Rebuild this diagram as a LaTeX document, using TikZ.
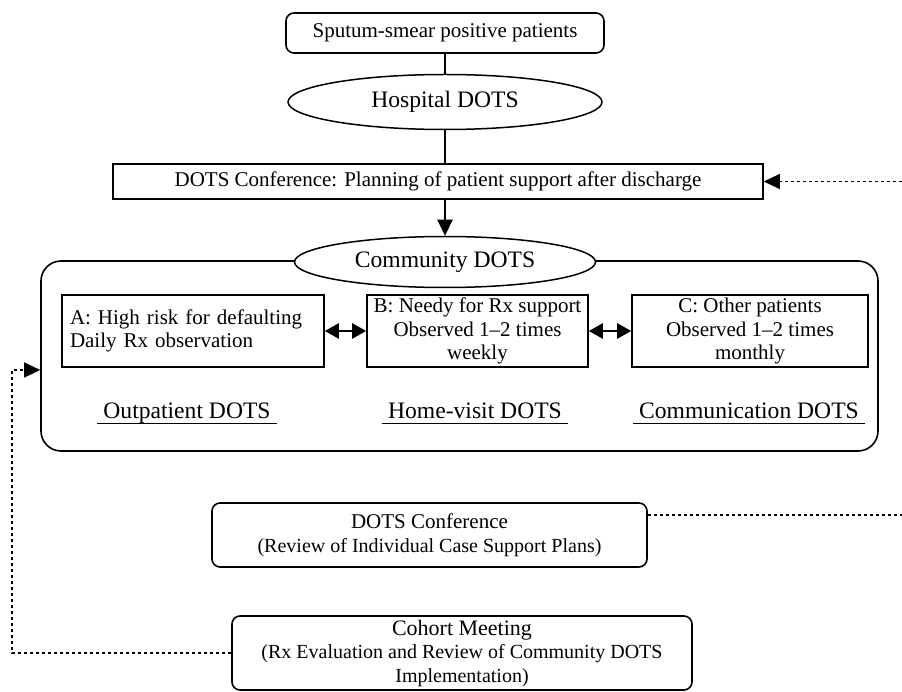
\documentclass[tikz,border=0pt]{standalone}
\usepackage{fontspec}
\setmainfont{Liberation Serif}
\usetikzlibrary{shapes.geometric,arrows.meta}

\begin{document}
\begin{tikzpicture}[x=1pt, y=-1pt,
		boxtext/.style={font=\fontsize{21}{23.5}\selectfont},
		bigtext/.style={font=\fontsize{23.6}{26}\selectfont},
		plainbox/.style={draw, line width=1.6pt, inner sep=0pt, boxtext, align=center},
		roundbox/.style={plainbox, rounded corners=8pt},
		ovalnode/.style={draw, ellipse, line width=1.5pt, inner sep=0pt, bigtext, fill=white},
		solidlink/.style={line width=2.2pt},
		dotlink/.style={line width=1.3pt, dash pattern=on 3.5pt off 2.5pt},
		headarrow/.style={-{Triangle[length=16pt,width=15pt]}},
		dualarrow/.style={line width=2.4pt, {Triangle[length=14pt,width=15pt]}-{Triangle[length=14pt,width=15pt]}},
		typelabel/.style={bigtext, anchor=base, inner xsep=6pt, inner ysep=0.5pt, text depth=5pt}]
				\useasboundingbox (0,0) rectangle (902,692);
				
				% Hospital stage
				\node[roundbox, minimum width=318pt, minimum height=40pt] (sputum) at (445,33) {Sputum-smear positive patients};
				\node[ovalnode, minimum width=314pt, minimum height=55pt] (hospital) at (445,102) {Hospital DOTS};
				\node[plainbox, minimum width=650pt, minimum height=35pt] (plan) at (438,181.5) {DOTS Conference: Planning of patient support after discharge};
				
				% Community stage
				\node[plainbox, rounded corners=20pt, minimum width=837pt, minimum height=190pt] (area) at (459.5,356) {};
				\node[ovalnode, minimum width=301pt, minimum height=51pt] (community) at (445,262) {Community DOTS};
				
				% Patient groups
				\node[plainbox, text width=246pt, inner xsep=8pt, align=left, minimum height=72pt] (groupa) at (193,331) {A: High risk for defaulting\\Daily Rx observation};
				\node[plainbox, minimum width=221pt, minimum height=72pt] (groupb) at (477.5,331) {B: Needy for Rx support\\Observed 1--2 times\\weekly};
				\node[plainbox, minimum width=236pt, minimum height=72pt] (groupc) at (750,331) {C: Other patients\\Observed 1--2 times\\monthly};
				
				% Types of DOTS
				\node[typelabel] (outpatient) at (187,418) {Outpatient DOTS};
				\node[typelabel] (homevisit) at (475,418) {Home-visit DOTS};
				\node[typelabel] (communication) at (749,418) {Communication DOTS};
				\foreach \t in {outpatient,homevisit,communication}
					\draw[line width=1.2pt] (\t.south west) -- (\t.south east);
				
				% Meetings
				\node[roundbox, minimum width=435pt, minimum height=64pt] (review) at (429.5,535) {{\fontsize{21}{23}\selectfont DOTS Conference}\\{\fontsize{20}{22}\selectfont (Review of Individual Case Support Plans)}};
				\node[roundbox, minimum width=460pt, minimum height=74pt] (cohort) at (462,653) {{\fontsize{22}{21}\selectfont Cohort Meeting}\\{\fontsize{20}{22}\selectfont (Rx Evaluation and Review of Community DOTS}\\{\fontsize{20}{22}\selectfont Implementation)}};
				
				% Arrows
				\draw[solidlink] (sputum) -- (hospital);
				\draw[solidlink] (hospital.south) -- (hospital.south |- plan.north);
				\draw[solidlink, headarrow] (plan.south -| community.north) -- (community.north);
				\draw[dualarrow] (groupa) -- (groupb);
				\draw[dualarrow] (groupb) -- (groupc);
				
				% Feedback
				\coordinate (feedtop) at (902,181.5);
				\coordinate (feedmid) at (902,515);
				\coordinate (feedleft) at (12,370);
				\draw[dotlink, headarrow] (feedtop) -- (plan.east);
				\draw[dotlink] (review.east |- feedmid) -- (feedmid);
				\draw[dotlink, headarrow] (cohort.west) -| (feedleft) -- (feedleft -| area.west);
			\end{tikzpicture}
\end{document}
